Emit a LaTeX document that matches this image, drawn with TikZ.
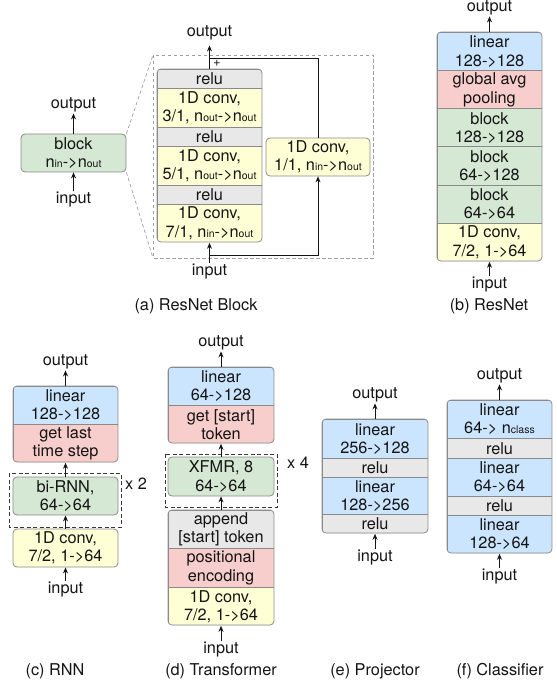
\documentclass[tikz,border=0pt]{standalone}
\usepackage{fontspec}
\setmainfont{TeX Gyre Heros}
\usetikzlibrary{arrows.meta}
\definecolor{cblue}{HTML}{CCE5FF}
\definecolor{cred}{HTML}{F8CECC}
\definecolor{cgreen}{HTML}{D5E8D4}
\definecolor{cyel}{HTML}{FFFFD6}
\definecolor{cgray}{HTML}{E8E8E8}
\definecolor{cbord}{HTML}{8A8A8A}
\definecolor{ctext}{HTML}{141414}
\newcommand\smallsub[1]{{\fontsize{10.5}{10.5}\selectfont #1}}
\begin{document}
\begin{tikzpicture}[x=1pt,y=-1pt,
  lbl/.style={font=\fontsize{16.3}{18.3}\selectfont, text=ctext, inner sep=1pt},
  rowbox/.style={draw=cbord, line width=0.8pt, inner sep=0pt, align=center, minimum width=105pt, anchor=north, font=\fontsize{16.3}{18.3}\selectfont, text=ctext},
  single/.style={rowbox, rounded corners=4pt, anchor=center},
  conn/.style={draw=ctext, line width=0.9pt, -{Stealth[length=6pt,width=5pt]}},
  plainline/.style={draw=ctext, line width=0.9pt},
  outline/.style={draw=cbord, line width=0.8pt, rounded corners=4pt},
  lightdash/.style={draw=gray!75, line width=0.7pt, dash pattern=on 3.5pt off 2.5pt},
  darkdash/.style={draw=ctext!85, line width=0.8pt, dash pattern=on 4pt off 2.5pt},
]
\useasboundingbox (0,0) rectangle (556,684);

% ---------------- (a) block ----------------
\node[single, fill=cgreen, minimum height=38pt] (blk) at (73.5,153) {block\\n\smallsub{in}->n\smallsub{out}};
\node[lbl] (blkout) at (73.5,105) {output};
\node[lbl] (blkin) at (73.5,200) {input};
\draw[conn] (blk.north) -- (blkout.south);
\draw[conn] (blkin.north) -- (blk.south);

% ---------------- (a) ResNet block ----------------
\coordinate (dtl) at (153,55);
\coordinate (dbl) at (153,258);
\draw[lightdash] (153,55) rectangle (373,258);
\draw[lightdash] (blk.north east) -- (dtl);
\draw[lightdash] (blk.south east) -- (dbl);

\begin{scope}
\clip[rounded corners=4pt] (157,69) rectangle (262,242);
\node[rowbox, fill=cgray, minimum height=19pt] (a1) at (209.5,69) {relu};
\node[rowbox, fill=cyel, minimum height=39pt] (a2) at (209.5,88) {1D conv,\\3/1, n\smallsub{out}->n\smallsub{out}};
\node[rowbox, fill=cgray, minimum height=19pt] (a3) at (209.5,127) {relu};
\node[rowbox, fill=cyel, minimum height=39pt] (a4) at (209.5,146) {1D conv,\\5/1, n\smallsub{out}->n\smallsub{out}};
\node[rowbox, fill=cgray, minimum height=19pt] (a5) at (209.5,185) {relu};
\node[rowbox, fill=cyel, minimum height=38pt] (a6) at (209.5,204) {1D conv,\\7/1, n\smallsub{in}->n\smallsub{out}};
\end{scope}
\draw[outline] (157,69) rectangle (262,242);

\node[single, fill=cyel, minimum width=104pt, minimum height=38pt] (side) at (318,157) {1D conv,\\1/1, n\smallsub{in}->n\smallsub{out}};
\node[lbl] (aout) at (209.5,33) {output};
\node[lbl] (ain) at (209.5,272) {input};
\coordinate (j1) at (209.5,58);
\coordinate (j2) at (318,58);
\coordinate (k1) at (209.5,255);
\coordinate (k2) at (318,255);
\draw[conn, shorten >=4pt] (a1.north) -- (aout.south);
\draw[plainline] (side.north) -- (j2) -- (j1);
\node[lbl, font=\fontsize{13}{13}\selectfont] (plus) at (217,63.5) {+};
\draw[conn] (ain.north) -- (a6.south);
\draw[conn] (k1) -- (k2) -- (side.south);
\node[lbl] (capa) at (196,306) {(a) ResNet Block};

% ---------------- (b) ResNet ----------------
\begin{scope}
\clip[rounded corners=4pt] (437,32) rectangle (542,261);
\node[rowbox, fill=cblue, minimum height=38.2pt] (b1) at (489.5,32) {linear\\128->128};
\node[rowbox, fill=cred, minimum height=38.2pt] (b2) at (489.5,70.2) {global avg\\pooling};
\node[rowbox, fill=cgreen, minimum height=38.2pt] (b3) at (489.5,108.3) {block\\128->128};
\node[rowbox, fill=cgreen, minimum height=38.2pt] (b4) at (489.5,146.5) {block\\64->128};
\node[rowbox, fill=cgreen, minimum height=38.2pt] (b5) at (489.5,184.7) {block\\64->64};
\node[rowbox, fill=cyel, minimum height=38.2pt] (b6) at (489.5,222.8) {1D conv,\\7/2, 1->64};
\end{scope}
\draw[outline] (437,32) rectangle (542,261);
\node[lbl] (bout) at (489.5,8) {output};
\node[lbl] (bin) at (489.5,285) {input};
\draw[conn] (b1.north) -- (bout.south);
\draw[conn] (bin.north) -- (b6.south);
\node[lbl] (capb) at (489,306) {(b) ResNet};

% ---------------- (c) RNN ----------------
\begin{scope}
\clip[rounded corners=4pt] (13,386) rectangle (118,462);
\node[rowbox, fill=cblue, minimum height=38pt] (c1) at (65.5,386) {linear\\128->128};
\node[rowbox, fill=cred, minimum height=38pt] (c2) at (65.5,424) {get last\\time step};
\end{scope}
\draw[outline] (13,386) rectangle (118,462);
\draw[darkdash] (9,473) rectangle (121,527);
\node[single, fill=cgreen, minimum height=38pt] (c3) at (65.5,496) {bi-RNN,\\64->64};
\node[single, fill=cyel, minimum height=38pt] (c4) at (65.5,548) {1D conv,\\7/2, 1->64};
\node[lbl] (cx) at (136,484) {x 2};
\node[lbl] (cout) at (65.5,362) {output};
\node[lbl] (cin) at (65.5,590) {input};
\draw[conn] (c1.north) -- (cout.south);
\draw[conn] (c3.north) -- (c2.south);
\draw[conn] (c4.north) -- (c3.south);
\draw[conn] (cin.north) -- (c4.south);
\node[lbl] (capc) at (55,671) {(c) RNN};

% ---------------- (d) Transformer ----------------
\begin{scope}
\clip[rounded corners=4pt] (168,367) rectangle (274,443);
\node[rowbox, minimum width=106pt, fill=cblue, minimum height=38pt] (d1) at (221,367) {linear\\64->128};
\node[rowbox, minimum width=106pt, fill=cred, minimum height=38pt] (d2) at (221,405) {get {[start]}\\token};
\end{scope}
\draw[outline] (168,367) rectangle (274,443);
\draw[darkdash] (165,454) rectangle (277,507);
\node[single, minimum width=106pt, fill=cgreen, minimum height=39pt] (d3) at (221,476.5) {XFMR, 8\\64->64};
\begin{scope}
\clip[rounded corners=4pt] (168,510) rectangle (274,625);
\node[rowbox, minimum width=106pt, fill=cgray, minimum height=38pt] (d4) at (221,510) {append\\{[start]} token};
\node[rowbox, minimum width=106pt, fill=cred, minimum height=39pt] (d5) at (221,548) {positional\\encoding};
\node[rowbox, minimum width=106pt, fill=cyel, minimum height=38pt] (d6) at (221,587) {1D conv,\\7/2, 1->64};
\end{scope}
\draw[outline] (168,510) rectangle (274,625);
\node[lbl] (dx) at (298,463) {x 4};
\node[lbl] (dout) at (221,343) {output};
\node[lbl] (din) at (221,650) {input};
\draw[conn] (d1.north) -- (dout.south);
\draw[conn] (d3.north) -- (d2.south);
\draw[conn] (d4.north) -- (d3.south);
\draw[conn] (din.north) -- (d6.south);
\node[lbl] (capd) at (221,671) {(d) Transformer};

% ---------------- (e) Projector ----------------
\begin{scope}
\clip[rounded corners=4pt] (322,419) rectangle (428,533);
\node[rowbox, minimum width=106pt, fill=cblue, minimum height=39pt] (e1) at (375,419) {linear\\256->128};
\node[rowbox, minimum width=106pt, fill=cgray, minimum height=19pt] (e2) at (375,458) {relu};
\node[rowbox, minimum width=106pt, fill=cblue, minimum height=37pt] (e3) at (375,477) {linear\\128->256};
\node[rowbox, minimum width=106pt, fill=cgray, minimum height=19pt] (e4) at (375,514) {relu};
\end{scope}
\draw[outline] (322,419) rectangle (428,533);
\node[lbl] (eout) at (375,395) {output};
\node[lbl] (ein) at (375,558) {input};
\draw[conn] (e1.north) -- (eout.south);
\draw[conn] (ein.north) -- (e4.south);
\node[lbl] (cape) at (375,671) {(e) Projector};

% ---------------- (f) Classifier ----------------
\begin{scope}
\clip[rounded corners=4pt] (447,400) rectangle (552,553);
\node[rowbox, fill=cblue, minimum height=38pt] (f1) at (499.5,400) {linear\\64-> n\smallsub{class}};
\node[rowbox, fill=cgray, minimum height=20pt] (f2) at (499.5,438) {relu};
\node[rowbox, fill=cblue, minimum height=38pt] (f3) at (499.5,458) {linear\\64->64};
\node[rowbox, fill=cgray, minimum height=19pt] (f4) at (499.5,496) {relu};
\node[rowbox, fill=cblue, minimum height=38pt] (f5) at (499.5,515) {linear\\128->64};
\end{scope}
\draw[outline] (447,400) rectangle (552,553);
\node[lbl] (fout) at (499.5,376) {output};
\node[lbl] (fin) at (499.5,577) {input};
\draw[conn] (f1.north) -- (fout.south);
\draw[conn] (fin.north) -- (f5.south);
\node[lbl] (capf) at (500,671) {(f) Classifier};
\end{tikzpicture}
\end{document}
